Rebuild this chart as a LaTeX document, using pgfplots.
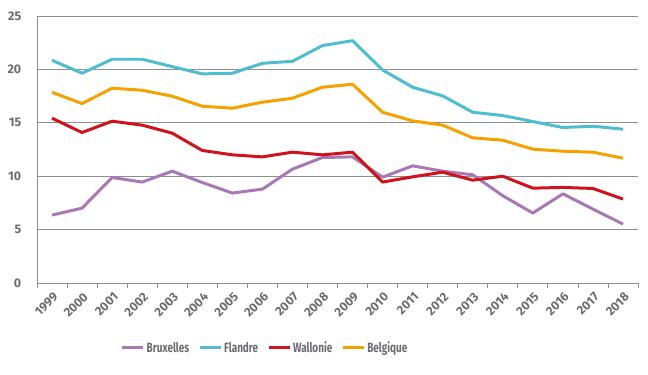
\documentclass[border=0pt]{standalone}
\usepackage{fontspec}
\setmainfont{Fira Sans}
\newfontfamily\condfont{Fira Sans}[FakeStretch=0.74]
\usepackage{pgfplots}
\pgfplotsset{compat=1.18}
\definecolor{cbrux}{HTML}{A878B6}
\definecolor{cflan}{HTML}{4EBDD2}
\definecolor{cwal}{HTML}{D0121B}
\definecolor{cbel}{HTML}{F5A100}
\definecolor{ctxt}{HTML}{6B6C70}
\definecolor{cgrid}{HTML}{8E8E8E}
\begin{document}
\begin{tikzpicture}
\useasboundingbox (-37bp,-92bp) rectangle (611bp,283bp);
\begin{axis}[
  scale only axis, width=601bp, height=267bp,
  xmin=-0.5, xmax=19.5, ymin=0, ymax=25,
  axis x line*=bottom, axis y line*=left,
  axis line style={cgrid, line width=0.8pt, -},
  xtick={0,...,19},
  xticklabels={1999,2000,2001,2002,2003,2004,2005,2006,2007,2008,2009,2010,2011,2012,2013,2014,2015,2016,2017,2018},
  major x tick style={draw=none},
  minor xtick={-0.5,0.5,...,19.5},
  minor x tick style={cgrid, line width=0.8pt},
  minor tick length=5bp,
  tick align=outside,
  ytick={0,5,...,25},
  major y tick style={draw=none},
  ymajorgrids, grid style={cgrid, line width=0.8pt},
  /pgf/number format/assume math mode=true,
  x tick label style={rotate=45, anchor=north east, font=\fontsize{12.5}{13}\selectfont\bfseries, text=ctxt, inner sep=0.5pt, xshift=-2bp, yshift=-3bp},
  y tick label style={font=\fontsize{12.5}{14}\selectfont\bfseries, text=ctxt, xshift=-8bp},
  legend columns=4,
  legend style={draw=none, at={(axis description cs:0.139,-0.243)}, anchor=west,
    font=\condfont\fontsize{13.5}{14}\selectfont\bfseries, text=ctxt,
    /tikz/every even column/.append style={column sep=7bp}, inner sep=0pt},
  legend image code/.code={\draw[#1, line width=3pt] (0bp,0bp) -- (21bp,0bp);},
  every axis plot/.append style={line width=3pt, line join=round},
]
\addplot[cbrux] coordinates {(0,6.36)(1,7.01)(2,9.88)(3,9.45)(4,10.47)(5,9.41)(6,8.42)(7,8.79)(8,10.66)(9,11.75)(10,11.81)(11,9.91)(12,10.97)(13,10.47)(14,10.13)(15,8.17)(16,6.55)(17,8.35)(18,6.92)(19,5.52)};
\addlegendentry{Bruxelles}
\addplot[cflan] coordinates {(0,20.85)(1,19.64)(2,20.95)(3,20.95)(4,20.26)(5,19.58)(6,19.64)(7,20.57)(8,20.76)(9,22.23)(10,22.69)(11,19.95)(12,18.33)(13,17.52)(14,15.99)(15,15.68)(16,15.12)(17,14.56)(18,14.68)(19,14.40)};
\addlegendentry{Flandre}
\addplot[cwal] coordinates {(0,15.43)(1,14.09)(2,15.15)(3,14.78)(4,14.03)(5,12.41)(6,12.0)(7,11.81)(8,12.25)(9,12.0)(10,12.25)(11,9.45)(12,9.94)(13,10.38)(14,9.63)(15,10.0)(16,8.88)(17,8.95)(18,8.85)(19,7.86)};
\addlegendentry{Wallonie}
\addplot[cbel] coordinates {(0,17.86)(1,16.8)(2,18.24)(3,18.05)(4,17.49)(5,16.55)(6,16.37)(7,16.93)(8,17.3)(9,18.33)(10,18.61)(11,15.99)(12,15.18)(13,14.78)(14,13.59)(15,13.37)(16,12.53)(17,12.34)(18,12.25)(19,11.69)};
\addlegendentry{Belgique}
\end{axis}
\end{tikzpicture}
\end{document}
